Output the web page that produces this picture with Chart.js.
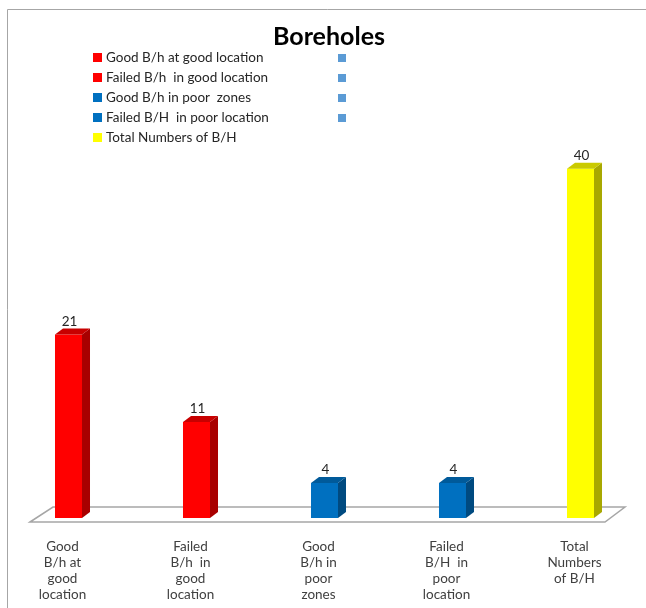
<!DOCTYPE html>
<html>
<head>
<meta charset="utf-8">
<title>Boreholes</title>
<script src="https://cdn.jsdelivr.net/npm/chart.js@4.4.1/dist/chart.umd.min.js"></script>
<style>
  html, body { margin: 0; padding: 0; background: #fff; }
  #wrap { width: 646px; height: 608px; }
</style>
</head>
<body>
<div id="wrap"><canvas id="chart"></canvas></div>
<script>
const tickLabels = [
  ["Good", "B/h at", "good", "location"],
  ["Failed", "B/h  in", "good", "location"],
  ["Good", "B/h in", "poor", "zones"],
  ["Failed", "B/H  in", "poor", "location"],
  ["Total", "Numbers", "of B/H"],
];
const legendNames = [
  "Good B/h at good location",
  "Failed B/h  in good location",
  "Good B/h in poor  zones",
  "Failed B/H  in poor location",
  "Total Numbers of B/H",
];
const counts = [21, 11, 4, 4, 40];
const frontColors = ["#FF0000", "#FF0000", "#0070C0", "#0070C0", "#FFFF00"];
const sideColors = ["#A80000", "#A80000", "#004A80", "#004A80", "#A8A800"];
const topColors = ["#C80000", "#C80000", "#005A9A", "#005A9A", "#CACA00"];
const blankLegendCount = 4;
const blankLegendColor = "#5B9BD5";

const FONT = "Lato, 'Liberation Sans', sans-serif";
const DX = 8, DY = 6;

// frame, title and legend drawn on the canvas
const overlay = {
  id: "overlay",
  beforeDraw(chart) {
    const ctx = chart.ctx;
    ctx.save();
    ctx.strokeStyle = "#A6A6A6";
    ctx.lineWidth = 1;
    ctx.beginPath();
    ctx.moveTo(7.5, 700);
    ctx.lineTo(7.5, 9.5);
    ctx.lineTo(700, 9.5);
    ctx.stroke();
    ctx.restore();
  },
  afterDraw(chart) {
    const ctx = chart.ctx;
    ctx.save();
    ctx.fillStyle = "#000";
    ctx.font = "bold 25px " + FONT;
    ctx.textAlign = "center";
    ctx.textBaseline = "middle";
    ctx.fillText("Boreholes", 329, 37);

    ctx.font = "13.5px " + FONT;
    ctx.textAlign = "left";
    legendNames.forEach((name, i) => {
      const y = 58 + i * 20;
      ctx.fillStyle = frontColors[i];
      ctx.fillRect(93, y - 5, 9, 9);
      ctx.fillStyle = "#262626";
      ctx.fillText(name, 106, y);
    });
    for (let i = 0; i < blankLegendCount; i++) {
      ctx.fillStyle = blankLegendColor;
      ctx.fillRect(338, 58 + i * 20 - 4, 8, 8);
    }
    ctx.restore();
  },
};

// 3D floor and bar faces
const threeD = {
  id: "threeD",
  beforeDatasetsDraw(chart) {
    const { ctx, chartArea } = chart;
    const base = chart.scales.y.getPixelForValue(0);
    ctx.save();
    ctx.strokeStyle = "#A6A6A6";
    ctx.lineWidth = 1.5;
    ctx.beginPath();
    ctx.moveTo(chartArea.left + 25.5, base + 4);
    ctx.lineTo(chartArea.left + 48.5, base - 11);
    ctx.lineTo(chartArea.right - 19.5, base - 11);
    ctx.lineTo(chartArea.right - 39.5, base + 4);
    ctx.closePath();
    ctx.fillStyle = "#fff";
    ctx.fill();
    ctx.stroke();
    ctx.restore();
  },
  afterDatasetsDraw(chart) {
    const ctx = chart.ctx;
    const meta = chart.getDatasetMeta(0);
    ctx.save();
    meta.data.forEach((bar, i) => {
      const { x, y, base, width } = bar.getProps(["x", "y", "base", "width"], true);
      const l = x - width / 2, r = x + width / 2;
      ctx.fillStyle = sideColors[i];
      ctx.beginPath();
      ctx.moveTo(r, y);
      ctx.lineTo(r + DX, y - DY);
      ctx.lineTo(r + DX, base - DY);
      ctx.lineTo(r, base);
      ctx.closePath();
      ctx.fill();
      ctx.fillStyle = topColors[i];
      ctx.beginPath();
      ctx.moveTo(l, y);
      ctx.lineTo(l + DX, y - DY);
      ctx.lineTo(r + DX, y - DY);
      ctx.lineTo(r, y);
      ctx.closePath();
      ctx.fill();

      ctx.fillStyle = "#262626";
      ctx.font = "13.5px " + FONT;
      ctx.textAlign = "center";
      ctx.textBaseline = "middle";
      ctx.fillText(String(counts[i]), x + 1, y - 13);
    });
    ctx.restore();
  },
};

new Chart(document.getElementById("chart"), {
  type: "bar",
  data: {
    labels: tickLabels,
    datasets: [
      {
        label: "Boreholes",
        data: counts,
        backgroundColor: frontColors,
        borderWidth: 0,
        barPercentage: 0.211,
        categoryPercentage: 1,
      },
    ],
  },
  options: {
    responsive: true,
    maintainAspectRatio: false,
    animation: false,
    layout: { padding: { left: 4.5, right: 1.5, top: 125, bottom: -16 } },
    plugins: {
      legend: { display: false },
      title: { display: false },
      tooltip: { enabled: false },
    },
    scales: {
      x: {
        grid: { display: false, drawTicks: false },
        border: { display: false },
        ticks: {
          padding: 21,
          labelOffset: -6,
          maxRotation: 0,
          autoSkip: false,
          color: "#404040",
          font: { family: FONT, size: 13.5, lineHeight: "16px" },
        },
      },
      y: {
        display: false,
        min: 0,
        max: 45,
      },
    },
  },
  plugins: [overlay, threeD],
});
</script>
</body>
</html>
